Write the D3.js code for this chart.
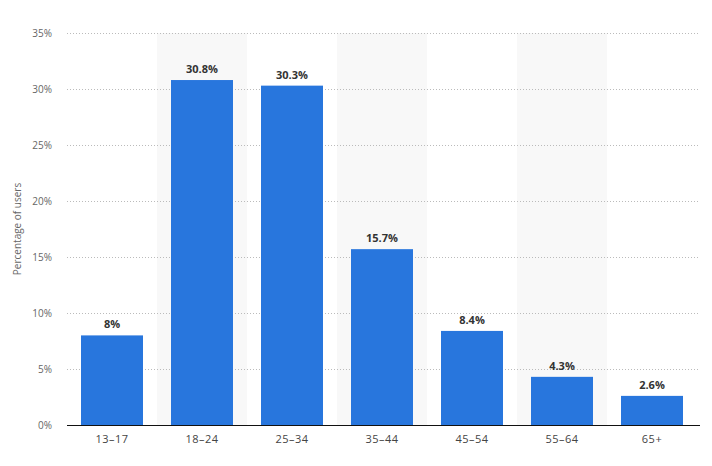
<!DOCTYPE html><html><head><meta charset="utf-8"><script src="https://cdn.jsdelivr.net/npm/d3@7"></script>
<style>body{margin:0;background:#fff;font-family:"Open Sans",sans-serif}</style></head><body><svg id="c" width="712" height="466"></svg>
<script>
const categories=["13-17","18-24","25-34","35-44","45-54","55-64","65+"];
const values=[8,30.8,30.3,15.7,8.4,4.3,2.6];
const labels=["8%","30.8%","30.3%","15.7%","8.4%","4.3%","2.6%"];
const yTicks=[0,5,10,15,20,25,30,35];
const svg=d3.select("#c");
const x=d3.scaleBand().domain(categories).range([67,697]).paddingInner(0).paddingOuter(0);
const y=d3.scaleLinear().domain([0,35]).range([425,33]);
svg.selectAll(".bg").data(categories.filter((d,i)=>i%2==1)).enter().append("rect")
 .attr("x",d=>x(d)).attr("width",x.bandwidth()).attr("y",y(35)).attr("height",y(0)-y(35)).attr("fill","#f8f8f8");
svg.selectAll(".g").data(yTicks.slice(1)).enter().append("line")
 .attr("x1",67).attr("x2",700).attr("y1",d=>y(d)+0.5).attr("y2",d=>y(d)+0.5)
 .attr("stroke","#bbb").attr("stroke-dasharray","1,2");
svg.selectAll(".yt").data(yTicks).enter().append("text").attr("x",52).attr("y",d=>y(d)+4)
 .attr("text-anchor","end").attr("font-size",10).attr("fill","#666").text(d=>d+"%");
const bw=62;
svg.selectAll(".b").data(values).enter().append("rect")
 .attr("x",(d,i)=>x(categories[i])+(x.bandwidth()-bw)/2).attr("width",bw)
 .attr("y",d=>y(d)).attr("height",d=>y(0)-y(d)).attr("fill","#2876dd");
svg.selectAll(".l").data(values).enter().append("text")
 .attr("x",(d,i)=>x(categories[i])+x.bandwidth()/2).attr("y",d=>y(d)-7)
 .attr("text-anchor","middle").attr("font-size",11).attr("font-weight","bold").attr("fill","#333")
 .text((d,i)=>labels[i]);
svg.append("line").attr("x1",67).attr("x2",700).attr("y1",425.5).attr("y2",425.5).attr("stroke","#111").attr("stroke-width",1.2);
svg.selectAll(".xt").data(categories).enter().append("text")
 .attr("x",d=>x(d)+x.bandwidth()/2).attr("y",443).attr("text-anchor","middle")
 .attr("font-size",11).attr("fill","#444").attr("letter-spacing","0.5").text(d=>d.replace("-","–"));
svg.append("text").attr("transform","translate(21,229) rotate(-90)").attr("text-anchor","middle")
 .attr("font-size",10).attr("fill","#666").text("Percentage of users");
</script></body></html>
